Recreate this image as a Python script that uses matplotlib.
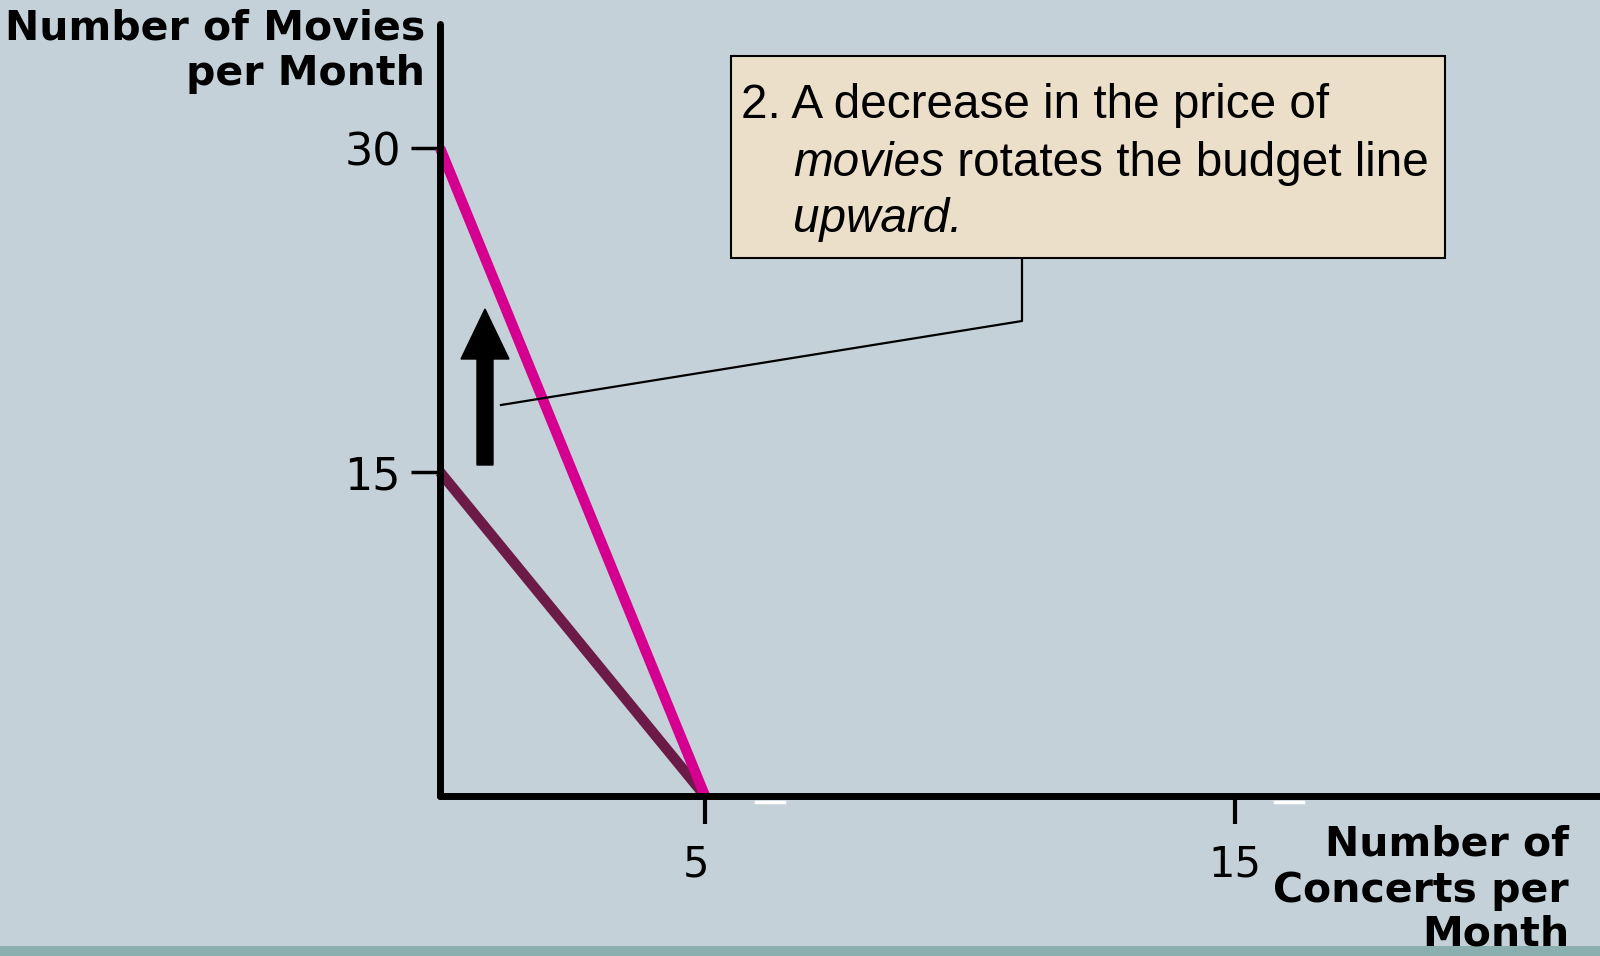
import matplotlib
matplotlib.use("Agg")
import matplotlib.pyplot as plt
from matplotlib.patches import Rectangle, FancyArrow
from matplotlib.lines import Line2D
from matplotlib.transforms import ScaledTranslation

# Budget lines: (concerts, movies) intercept pairs
original_line_x = [0, 5]
original_line_y = [15, 0]
new_line_x = [0, 5]
new_line_y = [30, 0]

x_ticks = [5, 15]
x_tick_labels = ["5", "15"]
y_ticks = [15, 30]
y_tick_labels = ["15", "30"]

BG = "#c5d1d8"
BAND = "#8aafae"
PINK = "#d5008f"
PLUM = "#6c1a48"
BOX = "#ebdfc9"

W, H = 1600, 956
plt.rcParams["font.family"] = ["DejaVu Sans"]
NOTE_FONT = ["Liberation Sans", "DejaVu Sans"]

fig = plt.figure(figsize=(W / 100, H / 100), dpi=100, facecolor=BG)


def fx(px):
    return px / W


def fy(py):
    return 1 - py / H


# Axes: origin at (440, 796) px, extends to the right edge and near the top
ax = fig.add_axes([fx(440), fy(796), fx(1600) - fx(440), fy(24) - fy(796)])
ax.set_facecolor("none")
ax.set_xlim(0, (1600 - 440) / 53.0)
ax.set_ylim(0, (796 - 24) / 21.6)

for side in ("top", "right"):
    ax.spines[side].set_visible(False)
for side in ("left", "bottom"):
    ax.spines[side].set_linewidth(5)
    ax.spines[side].set_color("black")
    ax.spines[side].set_capstyle("round")
    ax.spines[side].set_zorder(5)

ax.set_xticks(x_ticks)
ax.set_xticklabels(x_tick_labels)
ax.set_yticks(y_ticks)
ax.set_yticklabels(y_tick_labels)
ax.tick_params(axis="x", direction="out", length=20, width=3, pad=14,
               labelsize=30, color="black")
ax.tick_params(axis="y", direction="out", length=21, width=2.5, pad=7,
               labelsize=32, color="black")
lbl0 = ax.get_xticklabels()[0]
lbl0.set_transform(lbl0.get_transform() +
                   ScaledTranslation(-0.09, 0, fig.dpi_scale_trans))

# Budget lines
ax.plot(original_line_x, original_line_y, color=PLUM, lw=7.5,
        solid_capstyle="butt", zorder=3, clip_on=False)
ax.plot(new_line_x, new_line_y, color=PINK, lw=7.5,
        solid_capstyle="butt", zorder=4, clip_on=False)

# Small white marks beneath the horizontal axis
for x0, x1 in [(756, 784), (1275, 1303)]:
    fig.add_artist(Line2D([fx(x0), fx(x1)], [fy(802), fy(802)],
                          color="white", lw=2.5))

# Axis titles
fig.text(fx(425), fy(28), "Number of Movies", ha="right", va="center",
         fontsize=29.5, fontweight="bold")
fig.text(fx(425), fy(74), "per Month", ha="right", va="center",
         fontsize=29.5, fontweight="bold")
for txt, yc in [("Number of", 845), ("Concerts per", 891), ("Month", 935)]:
    fig.text(fx(1569), fy(yc), txt, ha="right", va="center",
             fontsize=29.5, fontweight="bold")

# Upward arrow
fig.add_artist(FancyArrow(4.85, (H - 465) / 100, 0, (465 - 309) / 100,
                          width=0.16, head_width=0.48, head_length=0.50,
                          length_includes_head=True, color="black",
                          transform=fig.dpi_scale_trans))

# Leader line from the callout box to the arrow
fig.add_artist(Line2D([fx(1022), fx(1022), fx(501)],
                      [fy(259), fy(321), fy(405)], color="black", lw=1.6))

# Callout box
fig.add_artist(Rectangle((fx(731), fy(258)), fx(1445) - fx(731),
                         fy(56) - fy(258), transform=fig.transFigure,
                         facecolor=BOX, edgecolor="black", lw=1.5))
fs = 34.3
fig.text(fx(741), fy(106), "2. A decrease in the price of", ha="left",
         va="center", fontsize=fs, family=NOTE_FONT)
t_mov = fig.text(fx(793), fy(163), "movies", ha="left", va="center",
                 fontsize=fs, style="italic", family=NOTE_FONT)
fig.add_artist(plt.Annotation(" rotates the budget line", xy=(1, 0),
                              xycoords=t_mov, ha="left", va="bottom",
                              fontsize=fs, family=NOTE_FONT))
fig.text(fx(793), fy(220), "upward.", ha="left", va="center",
         fontsize=fs, style="italic", family=NOTE_FONT)

# Bottom band
fig.add_artist(Rectangle((0, 0), 1, fy(946), transform=fig.transFigure,
                         facecolor=BAND, edgecolor="none"))

fig.savefig("out.png", dpi=100, facecolor=BG)
